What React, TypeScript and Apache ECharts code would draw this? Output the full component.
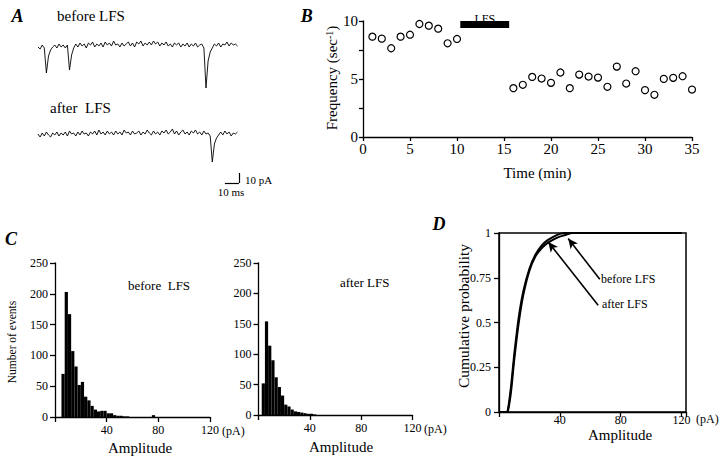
import React, { useEffect, useRef } from 'react';
import * as echarts from 'echarts';

// ---- Panel A: example current traces (pA), one sample every traceStepMs ----
const traceStepMs = 1.5;
const traceBefore = [
  0, -2, 2, -1,
  -26, -9, -3, 0,
  2, -1, 3, 0, 2, -1,
  2, -23, -8, -1,
  3, 0, 4, 1, 3, -1, 4, 2, 5, 0, 3, 1,
  4, 0, 5, 2, 4, 1, 6, 2, 3, 0, 4, 1,
  3, 5, 1, 4, 0, 5, 3, 6, 1, 4, 2, 5,
  2, 6, 3, 5, 1, 4, 2, 5, 1, 3, 0, 4,
  2, 4, 0, 3, 1, 4, 0, 3, 1, 4, 0, 2, 3, -1,
  -41, -14, -5, -1,
  3, 1, 4, 0, 3, 2, 5, 1, 4, 2, 3, 1,
];
const traceAfter = [
  1, -2, 2, -1, 3, 0, -2, 2, 0, 3, -1, 2,
  0, 3, -1, 4, 1, 2, -1, 3, 0, 4, 1, 2,
  -1, 3, 1, 4, 0, 5, 1, 3, 0, 4, 1, 3,
  0, 4, 1, 3, 0, 5, 2, 3, 0, 4, 1, 2,
  4, 0, 3, 1, 5, 2, 0, 4, 1, 3, 0, 4,
  2, 5, 1, 3, 6, 1, 4, 0, 3, 5, 1, 3,
  0, 4, 2, 5, 1, 3, 0, 4, 1, 2, -1,
  -27, -9, -3, 0,
  3, 0, 4, 1, 3, -1, 2, 1, 3,
];

// ---- Panel B: mEPSC frequency ----
const freqTime = [1, 2, 3, 4, 5, 6, 7, 8, 9, 10, 16, 17, 18, 19, 20, 21, 22, 23, 24, 25, 26, 27, 28, 29, 30, 31, 32, 33, 34, 35];
const freqValues = [8.65, 8.48, 7.65, 8.65, 8.82, 9.74, 9.6, 9.34, 8.08, 8.45, 4.21, 4.5, 5.18, 5.04, 4.67, 5.56, 4.21, 5.38, 5.21, 5.12, 4.33, 6.07, 4.61, 5.67, 4.04, 3.64, 5.01, 5.1, 5.24, 4.09];
const lfsPeriod = [10.35, 15.55];

// ---- Panel C: amplitude histograms ----
const histBinWidth = 2.5;
const beforeBinStarts = [5, 7.5, 10, 12.5, 15, 17.5, 20, 22.5, 25, 27.5, 30, 32.5, 35, 37.5, 40, 42.5, 45, 47.5, 50, 52.5, 55, 75];
const beforeCounts = [70, 203, 167, 107, 82, 52, 57, 33, 27, 18, 12, 9, 10, 10, 6, 6, 3, 2, 2, 1, 1, 3];
const afterBinStarts = [2.5, 5, 7.5, 10, 12.5, 15, 17.5, 20, 22.5, 25, 27.5, 30, 32.5, 35, 37.5, 40, 42.5];
const afterCounts = [52, 154, 114, 90, 62, 46, 32, 17, 14, 9, 6, 5, 4, 3, 2, 2, 1];

// ---- Panel D: cumulative probability ----
const cumAmplitude = [0, 5, 6, 8, 10, 13, 16, 20, 24, 28, 32, 36, 40, 44, 48, 120];
const cumBefore = [0, 0, 0.01, 0.12, 0.29, 0.5, 0.655, 0.79, 0.87, 0.915, 0.945, 0.965, 0.98, 0.99, 1, 1];
const cumAfter = [0, 0, 0.02, 0.15, 0.32, 0.53, 0.675, 0.8, 0.88, 0.93, 0.96, 0.98, 0.995, 1, 1, 1];

const FONT = 'Liberation Serif';
const axisLine = { show: true, onZero: false, lineStyle: { color: '#000', width: 1.3 } };
const tick = (len: number) => ({ show: true, inside: false, length: len, lineStyle: { color: '#000', width: 1.3 } });
const noSplit = { show: false };

function txt(text: string, x: number, y: number, size: number, extra: any = {}) {
  const align = extra.align || 'center';
  return {
    type: 'text',
    x,
    y,
    rotation: extra.rotation || 0,
    silent: true,
    style: {
      text,
      fill: '#000',
      fontFamily: FONT,
      fontSize: size,
      fontStyle: extra.italic ? 'italic' : 'normal',
      fontWeight: extra.bold ? 'bold' : 'normal',
      align,
      textAlign: align,
      verticalAlign: 'middle',
      textVerticalAlign: 'middle',
      rich: extra.rich,
    },
  };
}

function histRender(params: any, api: any) {
  const x0 = api.value(0);
  const c = api.value(1);
  const p0 = api.coord([x0, c]);
  const p1 = api.coord([x0 + histBinWidth, 0]);
  return {
    type: 'rect',
    shape: { x: p0[0], y: p0[1], width: p1[0] - p0[0], height: p1[1] - p0[1] },
    style: { fill: '#000' },
  };
}

export default function App() {
  const ref = useRef<HTMLDivElement>(null);
  useEffect(() => {
    document.body.style.margin = '0';
    const chart = echarts.init(ref.current!, undefined, { renderer: 'svg' });
    const histX = (gi: number) => ({
      type: 'value', gridIndex: gi, min: 0, max: 120, interval: 40,
      axisLine, axisTick: tick(5), splitLine: noSplit,
      axisLabel: { fontSize: 12, color: '#000', fontFamily: FONT, margin: 7, formatter: (v: number) => (v === 0 ? '' : String(v)) },
    });
    const histY = (gi: number) => ({
      type: 'value', gridIndex: gi, min: 0, max: 250, interval: 50,
      axisLine, axisTick: tick(5), splitLine: noSplit,
      axisLabel: { fontSize: 12, color: '#000', fontFamily: FONT, margin: 7 },
    });
    const option: any = {
      animation: false,
      textStyle: { fontFamily: FONT, color: '#000' },
      grid: [
        { left: 38, top: 32, width: 203, height: 60 },
        { left: 38, top: 100, width: 203, height: 90 },
        { left: 363, top: 21, width: 329, height: 116 },
        { left: 55, top: 263, width: 155, height: 154 },
        { left: 258.5, top: 263, width: 154, height: 152 },
        { left: 499, top: 233, width: 187, height: 179, show: true, borderColor: '#000', borderWidth: 1.5, backgroundColor: 'transparent' },
      ],
      xAxis: [
        { type: 'value', gridIndex: 0, min: 0, max: 145, show: false },
        { type: 'value', gridIndex: 1, min: 0, max: 145, show: false },
        {
          type: 'value', gridIndex: 2, min: 0, max: 35, interval: 5,
          axisLine, axisTick: tick(4), splitLine: noSplit,
          axisLabel: { fontSize: 15, color: '#000', fontFamily: FONT, margin: 4 },
        },
        histX(3),
        histX(4),
        {
          type: 'value', gridIndex: 5, min: 0, max: 123, interval: 40,
          axisLine, axisTick: tick(5), splitLine: noSplit,
          axisLabel: { fontSize: 12, color: '#000', fontFamily: FONT, margin: 2, formatter: (v: number) => (v === 40 || v === 80 || v === 120 ? String(v) : '') },
        },
      ],
      yAxis: [
        { type: 'value', gridIndex: 0, min: -45, max: 15, show: false },
        { type: 'value', gridIndex: 1, min: -55, max: 35, show: false },
        {
          type: 'value', gridIndex: 2, min: 0, max: 10, interval: 2.5,
          axisLine, axisTick: tick(4), splitLine: noSplit,
          axisLabel: { fontSize: 15, color: '#000', fontFamily: FONT, margin: 5, formatter: (v: number) => (v % 5 === 0 ? String(v) : '') },
        },
        histY(3),
        histY(4),
        {
          type: 'value', gridIndex: 5, min: 0, max: 1, interval: 0.25,
          axisLine, axisTick: tick(5), splitLine: noSplit,
          axisLabel: { fontSize: 12, color: '#000', fontFamily: FONT, margin: 8 },
        },
      ],
      series: [
        {
          type: 'line', xAxisIndex: 0, yAxisIndex: 0, showSymbol: false, silent: true,
          data: traceBefore.map((v, i) => [i * traceStepMs, v]),
          lineStyle: { color: '#000', width: 0.9 },
        },
        {
          type: 'line', xAxisIndex: 1, yAxisIndex: 1, showSymbol: false, silent: true,
          data: traceAfter.map((v, i) => [i * traceStepMs, v]),
          lineStyle: { color: '#000', width: 0.9 },
          markLine: {
            silent: true, symbol: ['none', 'none'], label: { show: false },
            lineStyle: { color: '#000', width: 1.2, type: 'solid' },
            data: [
              [{ coord: [133.5, -48] }, { coord: [143.5, -48] }],
              [{ coord: [143.5, -48] }, { coord: [143.5, -38] }],
            ],
          },
        },
        {
          type: 'scatter', xAxisIndex: 2, yAxisIndex: 2, silent: true,
          data: freqTime.map((t, i) => [t, freqValues[i]]),
          symbol: 'circle', symbolSize: 7,
          itemStyle: { color: '#fff', borderColor: '#000', borderWidth: 1.2, opacity: 1 },
          markArea: {
            silent: true,
            itemStyle: { color: '#000', opacity: 1 },
            label: { show: true, position: 'top', distance: 0, offset: [0, 4], fontSize: 12, color: '#000', fontFamily: FONT },
            data: [[{ xAxis: lfsPeriod[0], yAxis: 9.4, name: 'LFS' }, { xAxis: lfsPeriod[1], yAxis: 10 }]],
          },
        },
        {
          type: 'custom', xAxisIndex: 3, yAxisIndex: 3, silent: true,
          renderItem: histRender,
          encode: { x: 0, y: 1 },
          data: beforeBinStarts.map((s, i) => [s, beforeCounts[i]]),
        },
        {
          type: 'custom', xAxisIndex: 4, yAxisIndex: 4, silent: true,
          renderItem: histRender,
          encode: { x: 0, y: 1 },
          data: afterBinStarts.map((s, i) => [s, afterCounts[i]]),
        },
        {
          type: 'line', xAxisIndex: 5, yAxisIndex: 5, showSymbol: false, silent: true, smooth: 0.2,
          data: cumAmplitude.map((a, i) => [a, cumBefore[i]]),
          lineStyle: { color: '#000', width: 2 },
          markLine: {
            silent: true, symbol: ['none', 'arrow'], symbolSize: [7, 10], label: { show: false },
            lineStyle: { color: '#000', width: 1.6, type: 'solid' },
            data: [
              [{ coord: [66.3, 0.741] }, { coord: [45.5, 0.969] }],
              [{ coord: [65.2, 0.596] }, { coord: [32.4, 0.95] }],
            ],
          },
        },
        {
          type: 'line', xAxisIndex: 5, yAxisIndex: 5, showSymbol: false, silent: true, smooth: 0.2,
          data: cumAmplitude.map((a, i) => [a, cumAfter[i]]),
          lineStyle: { color: '#000', width: 2 },
        },
      ],
      graphic: [
        txt('A', 17.5, 16, 18, { italic: true, bold: true }),
        txt('before LFS', 57, 16, 15, { align: 'left' }),
        txt('after  LFS', 50, 108, 15, { align: 'left' }),
        txt('10 pA', 245, 180, 11, { align: 'left' }),
        txt('10 ms', 231, 192, 11),
        txt('B', 306.7, 15.6, 18, { italic: true, bold: true }),
        txt('Frequency (sec{sup|-1})', 331.7, 78, 15, { rotation: Math.PI / 2, rich: { sup: { fontSize: 10, fontFamily: FONT, verticalAlign: 'top', fill: '#000' } } }),
        txt('Time (min)', 537.5, 173, 15),
        txt('C', 11, 239, 18, { italic: true, bold: true }),
        txt('Number of events', 11.7, 342, 11.5, { rotation: Math.PI / 2 }),
        txt('before  LFS', 128, 285, 13, { align: 'left' }),
        txt('after LFS', 340, 282, 13, { align: 'left' }),
        txt('Amplitude', 140, 448, 15),
        txt('Amplitude', 341, 447, 15),
        txt('(pA)', 222, 431, 12, { align: 'left' }),
        txt('(pA)', 424, 429, 12, { align: 'left' }),
        txt('D', 439, 224, 18, { italic: true, bold: true }),
        txt('Cumulative probability', 463, 316, 15.5, { rotation: Math.PI / 2 }),
        txt('before LFS', 601, 279, 12, { align: 'left' }),
        txt('after LFS', 602, 304, 12, { align: 'left' }),
        txt('Amplitude', 620, 435, 15),
        txt('(pA)', 696, 419, 12, { align: 'left' }),
      ],
    };
    chart.setOption(option);
    return () => chart.dispose();
  }, []);
  return <div ref={ref} style={{ width: 720, height: 460, background: '#fff' }} />;
}
